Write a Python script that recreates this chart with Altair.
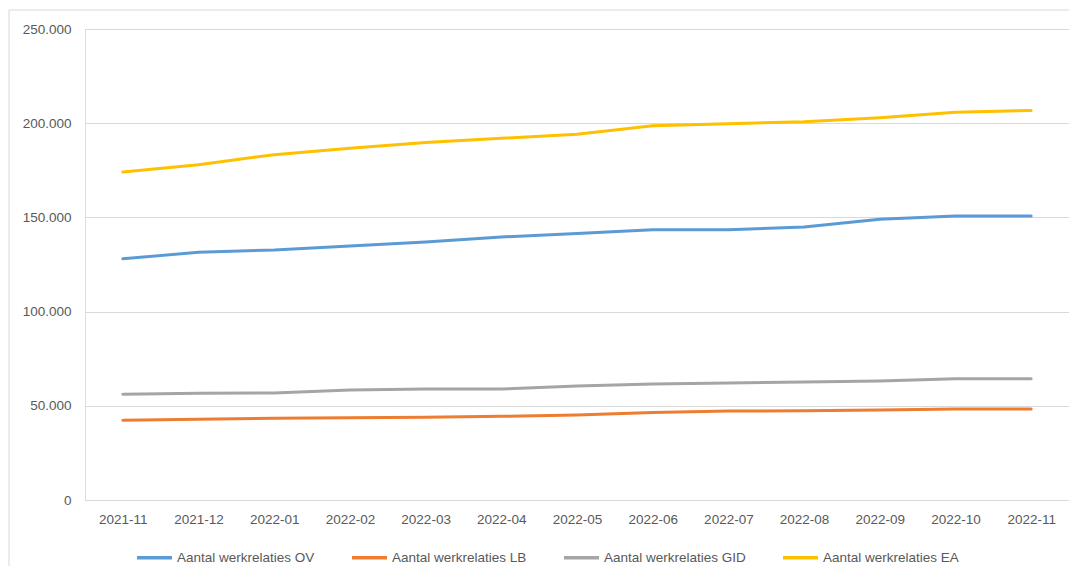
import altair as alt
import pandas as pd

months = ["2021-11", "2021-12", "2022-01", "2022-02", "2022-03", "2022-04", "2022-05",
          "2022-06", "2022-07", "2022-08", "2022-09", "2022-10", "2022-11"]
series_names = ["Aantal werkrelaties OV", "Aantal werkrelaties LB",
                "Aantal werkrelaties GID", "Aantal werkrelaties EA"]
ov = [128000, 131500, 132700, 134800, 136900, 139600, 141500, 143500, 143500, 144900, 149000, 150700, 150700]
lb = [42300, 42800, 43400, 43700, 43900, 44400, 45100, 46500, 47200, 47400, 47800, 48300, 48300]
gid = [56100, 56600, 56800, 58400, 58900, 58900, 60500, 61600, 62100, 62600, 63200, 64400, 64400]
ea = [174100, 178000, 183300, 186700, 189700, 192000, 194100, 198700, 199700, 200800, 202900, 205800, 206800]
colors = ["#5B9BD5", "#ED7D31", "#A5A5A5", "#FFC000"]

rows = []
for name, vals in zip(series_names, [ov, lb, gid, ea]):
    for m, v in zip(months, vals):
        rows.append({"maand": m, "serie": name, "waarde": v})
df = pd.DataFrame(rows)

FONT = "Liberation Sans"
TXT = "#595959"
GRID = "#D9D9D9"

lines = alt.Chart(df).mark_line(strokeWidth=3, strokeCap="round", strokeJoin="round").encode(
    x=alt.X("maand:O", sort=months, title=None,
            axis=alt.Axis(labelAngle=0, domain=False, ticks=False, labelPadding=12,
                          labelFontSize=13.5, labelColor=TXT, labelFont=FONT, grid=False)),
    y=alt.Y("waarde:Q", title=None,
            scale=alt.Scale(domain=[0, 250000], nice=False),
            axis=alt.Axis(values=[0, 50000, 100000, 150000, 200000, 250000],
                          labelExpr="datum.value == 0 ? '0' : format(datum.value / 1000, 'd') + '.000'",
                          domain=False, ticks=False, labelPadding=14, grid=True,
                          gridColor=GRID, gridWidth=1, labelFontSize=13.5,
                          labelColor=TXT, labelFont=FONT)),
    color=alt.Color("serie:N", scale=alt.Scale(domain=series_names, range=colors),
                    legend=alt.Legend(title=None, orient="none", direction="horizontal",
                                      legendX=50, legendY=509,
                                      symbolSize=1225, symbolStrokeWidth=3.5,
                                      labelFontSize=13.5, labelColor=TXT, labelFont=FONT,
                                      labelOffset=3, columnPadding=30)),
)

frame = alt.Data(values=[{"k": 1}])
left_border = alt.Chart(frame).mark_rule(color=GRID, strokeWidth=1).encode(
    x=alt.value(-76), y=alt.value(-19), y2=alt.value(560))
top_border = alt.Chart(frame).mark_rule(color=GRID, strokeWidth=1).encode(
    x=alt.value(-76), x2=alt.value(1000), y=alt.value(-19))

chart = alt.layer(lines, left_border, top_border).properties(
    width=984, height=471,
    autosize=alt.AutoSizeParams(type="none"),
    padding={"left": 77, "top": 21, "right": 0, "bottom": 66},
).configure_view(stroke=None).configure(font=FONT)

chart.save("out.html", embed_options={"renderer": "svg", "actions": False})
